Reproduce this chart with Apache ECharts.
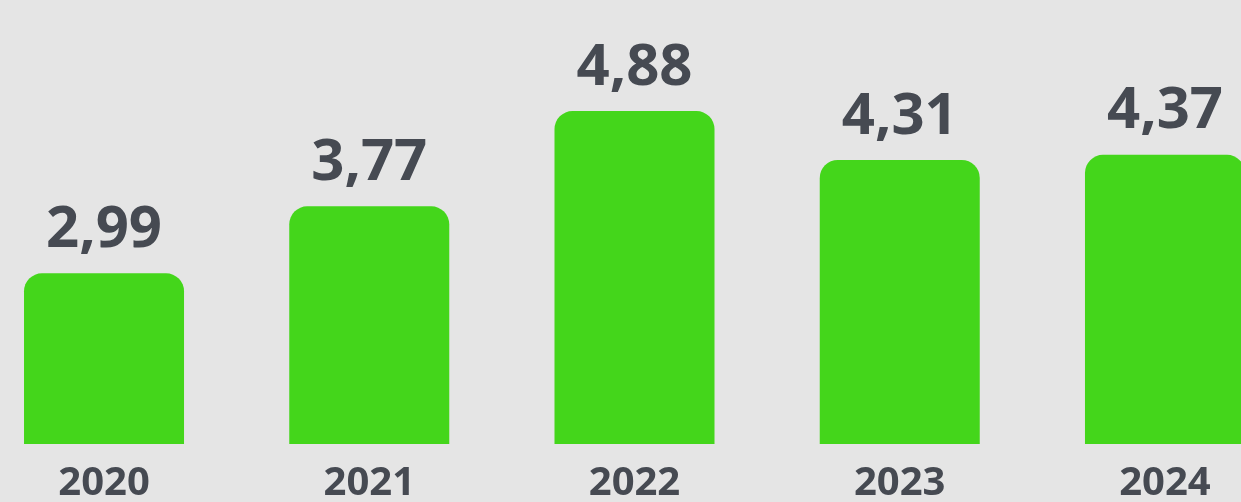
<!DOCTYPE html>
<html>
<head>
<meta charset="utf-8">
<script src="https://cdn.jsdelivr.net/npm/echarts@6/dist/echarts.min.js"></script>
<style>
html,body{margin:0;padding:0;background:#e5e5e5;}
#chart{width:1241px;height:502px;}
</style>
</head>
<body>
<div id="chart"></div>
<script>
const years = ['2020', '2021', '2022', '2023', '2024'];
const values = [2.99, 3.77, 4.88, 4.31, 4.37];

const chart = echarts.init(document.getElementById('chart'), null, {renderer: 'canvas'});
chart.setOption({
  backgroundColor: '#e5e5e5',
  animation: false,
  grid: {left: -28.6, right: -56.6, top: 15, bottom: 58, containLabel: false, outerBoundsMode: 'none'},
  xAxis: {
    type: 'category',
    data: years,
    boundaryGap: true,
    axisLine: {show: false},
    axisTick: {show: false},
    splitLine: {show: false},
    axisLabel: {
      color: '#464a52',
      fontFamily: 'Open Sans',
      fontWeight: 'bold',
      fontSize: 40,
      margin: 20,
      interval: 0
    }
  },
  yAxis: {
    type: 'value',
    min: 1,
    max: 6,
    show: false,
    splitLine: {show: false}
  },
  series: [{
    type: 'bar',
    data: values,
    barWidth: 160,
    clip: true,
    itemStyle: {color: '#44d61b', borderRadius: [18, 18, 0, 0]},
    label: {
      show: true,
      position: 'top',
      distance: 14,
      color: '#464a52',
      fontFamily: 'Open Sans',
      fontWeight: 'bold',
      fontSize: 58,
      formatter: p => p.value.toFixed(2).replace('.', ',')
    }
  }]
});
</script>
</body>
</html>
